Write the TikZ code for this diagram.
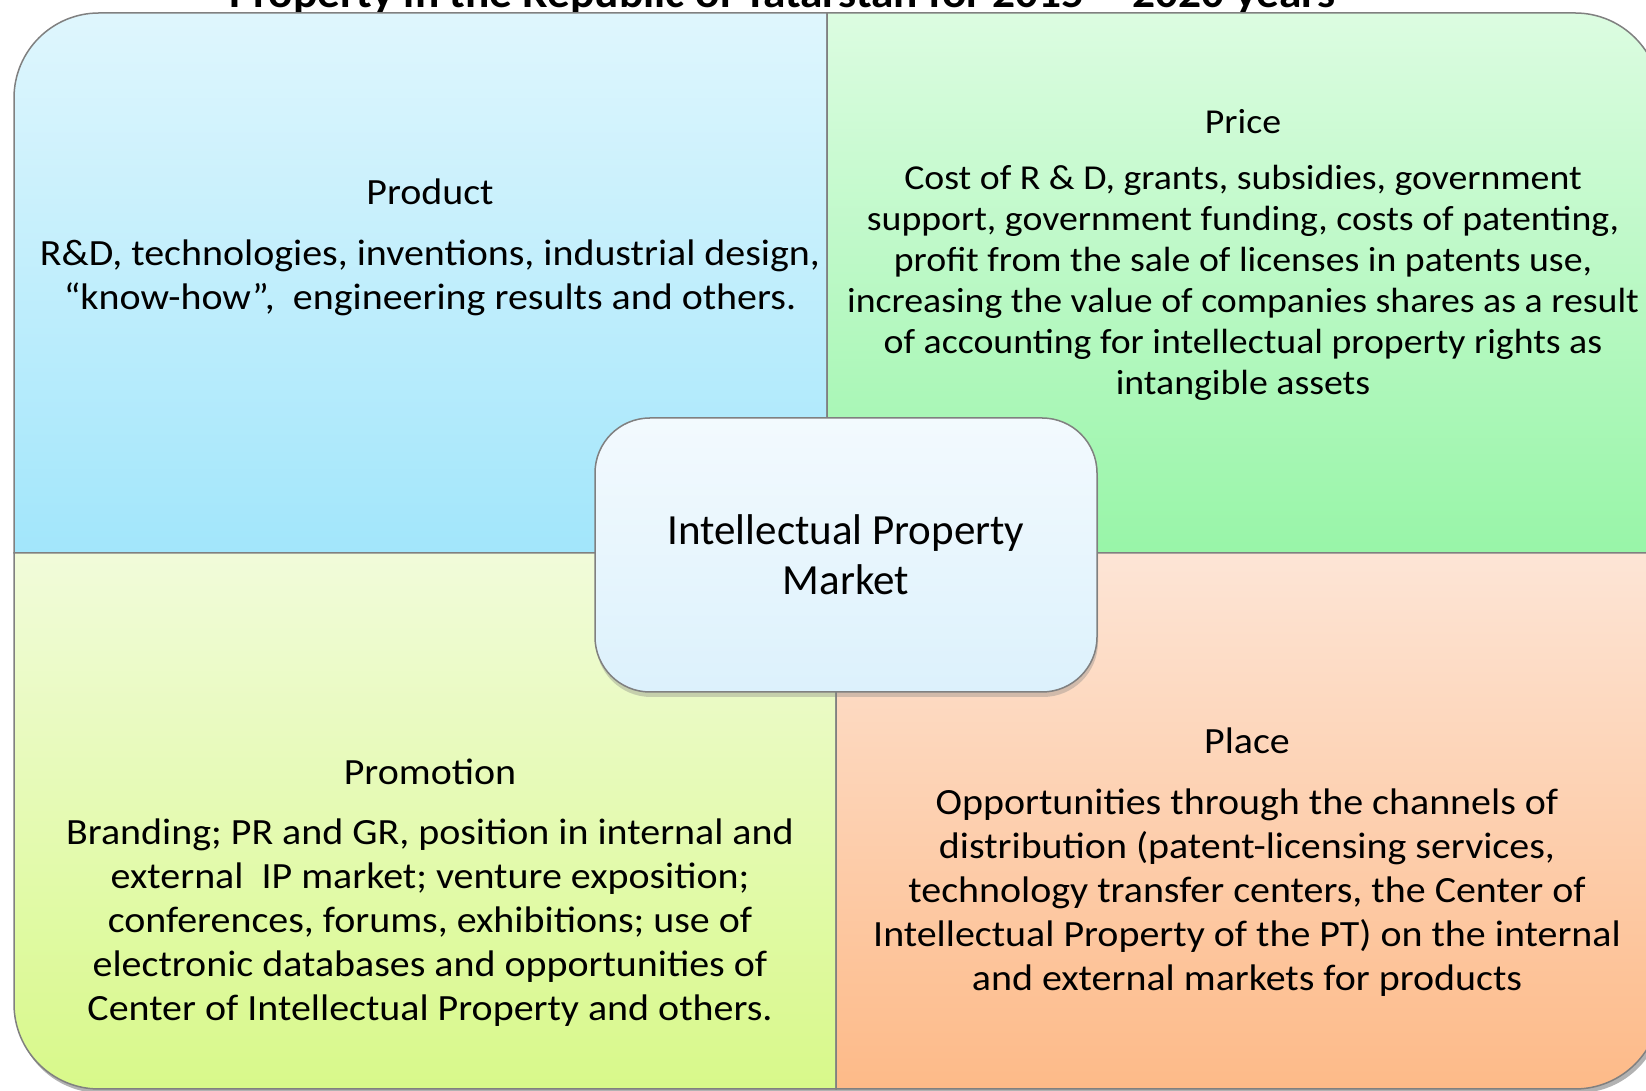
\documentclass[tikz,border=0pt]{standalone}
\usepackage{fontspec}
\setmainfont{Carlito}
\newfontfamily\widefont[FakeStretch=1.08]{Carlito}
\usetikzlibrary{shadows}
\definecolor{tlTop}{HTML}{DFF6FD}
\definecolor{tlBot}{HTML}{A2E6FB}
\definecolor{trTop}{HTML}{DCFCE1}
\definecolor{trBot}{HTML}{98F5A8}
\definecolor{blTop}{HTML}{F1FBDA}
\definecolor{blBot}{HTML}{D8F98A}
\definecolor{brTop}{HTML}{FDE5D6}
\definecolor{brBot}{HTML}{FDBA88}
\definecolor{cTop}{HTML}{F3FAFE}
\definecolor{cBot}{HTML}{DCF1FC}
\definecolor{edge}{HTML}{808080}
\tikzset{
  quad/.style={draw=edge, line width=1.5pt},
  bigtext/.style={align=center, inner sep=0pt, font=\widefont\fontsize{37}{44}\selectfont},
  pricetext/.style={align=center, inner sep=0pt, font=\widefont\fontsize{35}{41}\selectfont},
  centerbox/.style={draw=edge, line width=1.5pt, rounded corners=55pt,
     minimum width=502pt, minimum height=274pt, top color=cTop, bottom color=cBot,
     align=center, font=\fontsize{43}{50}\selectfont,
     drop shadow={shadow xshift=1pt, shadow yshift=-5pt, opacity=0.35}},
}
\begin{document}
\begin{tikzpicture}[x=1pt,y=1pt]
\useasboundingbox (0,0) rectangle (1646,1091);
\fill[white] (0,0) rectangle (1646,1091);
% title (cut off at top)
\node[anchor=base, inner sep=0pt, font=\widefont\fontsize{42}{50}\selectfont\bfseries] (title) at (782,1083.5)
  {Property in the Republic of Tatarstan for 2015 -- 2020 years};
% outer shadow
\fill[black, opacity=0.3, rounded corners=85pt] (16,-2) rectangle (1663,1075);
% quadrants
\path[quad, top color=tlTop, bottom color=tlBot]
  (14,538) -- (14,993) arc[start angle=180, end angle=90, radius=85] -- (827,1078) -- (827,538) -- cycle;
\path[quad, top color=trTop, bottom color=trBot]
  (827,538) -- (827,1078) -- (1575,1078) arc[start angle=90, end angle=0, radius=85] -- (1660,538) -- cycle;
\path[quad, top color=blTop, bottom color=blBot]
  (14,538) -- (836,538) -- (836,2) -- (99,2) arc[start angle=270, end angle=180, radius=85] -- cycle;
\path[quad, top color=brTop, bottom color=brBot]
  (836,538) -- (1660,538) -- (1660,87) arc[start angle=0, end angle=-90, radius=85] -- (836,2) -- cycle;
% texts
\node[bigtext] (product) at (430,844)
  {Product\\[17pt]R\&D, technologies, inventions, industrial design,\\“know-how”,\ \ engineering results and others.};
\node[pricetext] (price) at (1243,836)
  {Price\\[15pt]Cost of R \& D, grants, subsidies, government\\support, government funding, costs of patenting,\\profit from the sale of licenses in patents use,\\increasing the value of companies shares as a result\\of accounting for intellectual property rights as\\intangible assets};
\node[bigtext] (promotion) at (430,198)
  {Promotion\\[16pt]Branding; PR and GR, position in internal and\\external\ \ IP market; venture exposition;\\conferences, forums, exhibitions; use of\\electronic databases and opportunities of\\Center of Intellectual Property and others.};
\node[bigtext] (place) at (1247,229)
  {Place\\[17pt]Opportunities through the channels of\\distribution (patent-licensing services,\\technology transfer centers, the Center of\\Intellectual Property of the PT) on the internal\\and external markets for products};
\node[centerbox] (ipm) at (846,536) {Intellectual Property\\Market};
\end{tikzpicture}
\end{document}
